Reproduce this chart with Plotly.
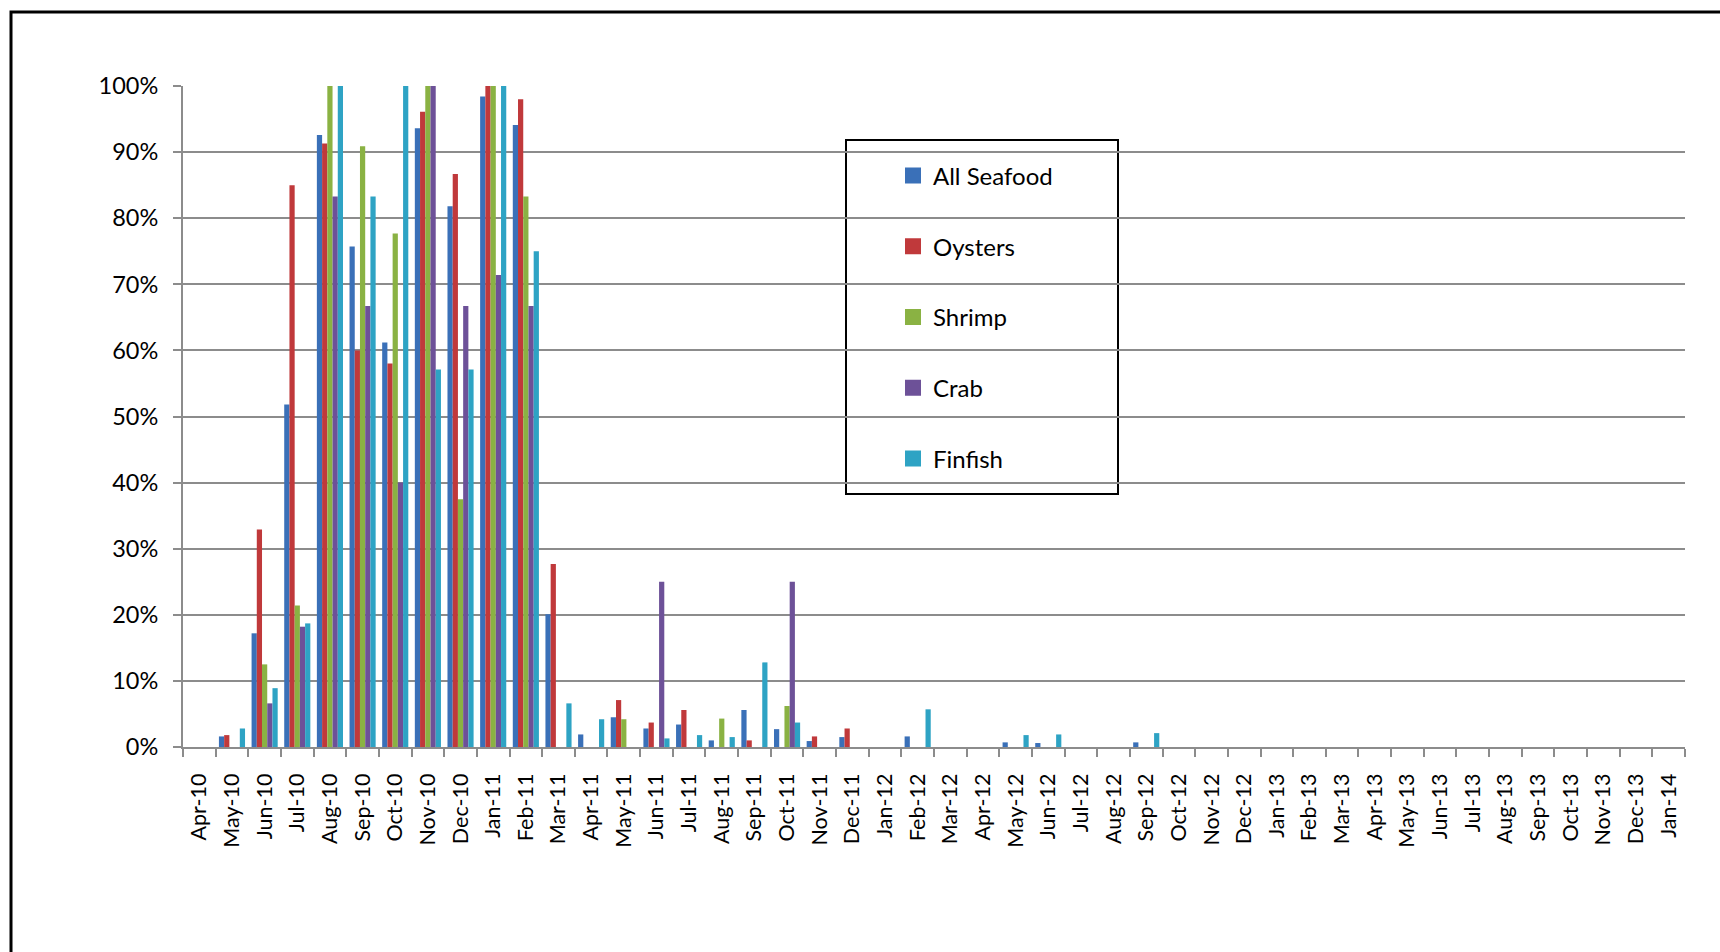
import plotly.graph_objects as go

# Month categories on the x axis
months = [
    "Apr-10", "May-10", "Jun-10", "Jul-10", "Aug-10", "Sep-10", "Oct-10", "Nov-10", "Dec-10",
    "Jan-11", "Feb-11", "Mar-11", "Apr-11", "May-11", "Jun-11", "Jul-11", "Aug-11", "Sep-11",
    "Oct-11", "Nov-11", "Dec-11",
    "Jan-12", "Feb-12", "Mar-12", "Apr-12", "May-12", "Jun-12", "Jul-12", "Aug-12", "Sep-12",
    "Oct-12", "Nov-12", "Dec-12",
    "Jan-13", "Feb-13", "Mar-13", "Apr-13", "May-13", "Jun-13", "Jul-13", "Aug-13", "Sep-13",
    "Oct-13", "Nov-13", "Dec-13", "Jan-14",
]

N = None
# Share of each product group per month (fraction of 1)
all_seafood = [N, 0.016, 0.172, 0.518, 0.926, 0.757, 0.612, 0.936, 0.818,
               0.984, 0.941, 0.201, 0.019, 0.045, 0.028, 0.034, 0.010, 0.056,
               0.027, 0.009, 0.015,
               N, 0.016, N, N, 0.007, 0.006, N, N, 0.007,
               N, N, N,
               N, N, N, N, N, N, N, N, N, N, N, N, N]
oysters = [N, 0.018, 0.329, 0.850, 0.913, 0.600, 0.580, 0.961, 0.867,
           1.000, 0.980, 0.277, N, 0.071, 0.037, 0.056, N, 0.010,
           N, 0.016, 0.028,
           N, N, N, N, N, N, N, N, N,
           N, N, N,
           N, N, N, N, N, N, N, N, N, N, N, N, N]
shrimp = [N, N, 0.125, 0.214, 1.000, 0.909, 0.777, 1.000, 0.375,
          1.000, 0.833, N, N, 0.042, N, N, 0.043, N,
          0.062, N, N,
          N, N, N, N, N, N, N, N, N,
          N, N, N,
          N, N, N, N, N, N, N, N, N, N, N, N, N]
crab = [N, N, 0.066, 0.182, 0.833, 0.667, 0.400, 1.000, 0.667,
        0.714, 0.667, N, N, N, 0.250, N, N, N,
        0.250, N, N,
        N, N, N, N, N, N, N, N, N,
        N, N, N,
        N, N, N, N, N, N, N, N, N, N, N, N, N]
finfish = [N, 0.028, 0.089, 0.187, 1.000, 0.833, 1.000, 0.571, 0.571,
           1.000, 0.750, 0.066, 0.042, N, 0.013, 0.018, 0.015, 0.128,
           0.037, N, N,
           N, 0.057, N, N, 0.018, 0.019, N, N, 0.021,
           N, N, N,
           N, N, N, N, N, N, N, N, N, N, N, N, N]

series_names = ["All Seafood", "Oysters", "Shrimp", "Crab", "Finfish"]
series_values = [all_seafood, oysters, shrimp, crab, finfish]
series_colors = ["#3A70B8", "#C0393B", "#8AB243", "#6D5198", "#2EA3C4"]

FONT = "Lato"

fig = go.Figure()
for name, vals, col in zip(series_names, series_values, series_colors):
    fig.add_trace(go.Bar(x=months, y=vals, name=name, marker=dict(color=col, line=dict(width=0)),
                         showlegend=False))
    # legend swatch
    fig.add_trace(go.Scatter(x=[None], y=[None], mode="markers", name=name, legendgroup=name,
                             marker=dict(symbol="square", size=16, color=col)))

# pixel geometry helpers for paper-space shapes
L, R, T, B = 183, 1685, 86, 747
def px(x):
    return (x - L) / (R - L)
def py(y):
    return (B - y) / (B - T)

fig.update_layout(
    width=1720, height=952,
    margin=dict(l=L, r=1720 - R, t=T, b=952 - B),
    paper_bgcolor="white", plot_bgcolor="white",
    barmode="group", bargap=0.2, bargroupgap=0,
    font=dict(family=FONT, color="black", size=21),
    legend=dict(x=px(893), y=py(153.5), xanchor="left", yanchor="top",
                bgcolor="rgba(0,0,0,0)", borderwidth=0,
                font=dict(family=FONT, size=24, color="black"),
                tracegroupgap=36.5, itemclick=False),
    xaxis=dict(type="category", range=[-0.5, len(months) - 0.5],
               tickangle=-90, tickson="boundaries", ticks="outside", ticklen=8,
               tickwidth=2, tickcolor="#8c8c8c", showline=True, linecolor="#8c8c8c",
               linewidth=2, showgrid=False, ticklabelstandoff=16,
               tickfont=dict(size=21.5, family=FONT)),
    yaxis=dict(range=[0, 1], dtick=0.1, tickformat=".0%", ticks="outside", ticklen=8,
               tickwidth=2, tickcolor="#8c8c8c", showline=True, linecolor="#8c8c8c",
               linewidth=2, showgrid=True, gridcolor="#8c8c8c", gridwidth=2,
               zeroline=False, ticklabelstandoff=10, tickfont=dict(size=23.5, family=FONT)),
    shapes=[
        # legend frame
        dict(type="rect", xref="paper", yref="paper", x0=px(846), x1=px(1118),
             y0=py(494), y1=py(140), line=dict(color="black", width=2),
             fillcolor="white", layer="between"),
        # outer chart border
        dict(type="rect", xref="paper", yref="paper", x0=px(11), x1=px(1740),
             y0=py(975), y1=py(12), line=dict(color="black", width=3),
             fillcolor="rgba(0,0,0,0)", layer="above"),
    ],
)

fig.write_html("out.html")
